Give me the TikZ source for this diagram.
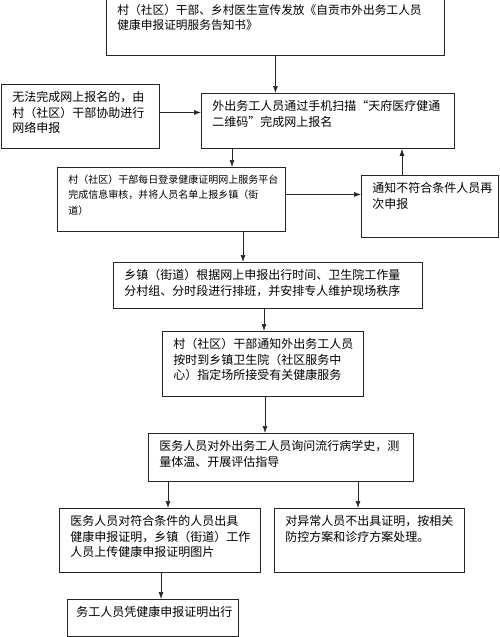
\documentclass[tikz,border=0pt]{standalone}
\usepackage{fontspec}
\setmainfont{Noto Sans CJK SC}
\usetikzlibrary{arrows.meta}
\tikzset{
 box/.style={draw=black!85, line width=0.9pt, anchor=north west, inner xsep=11pt, inner ysep=7pt, fill=white},
 arr/.style={-{Latex[length=7pt,width=5pt]}, line width=0.7pt, draw=black!85},
}
\newcommand\boxtext[4][12]{\parbox[c][\dimexpr#3pt-14pt\relax][t]{\dimexpr#2pt-22pt\relax}{\fontsize{#1}{15.5}\selectfont #4}}
\begin{document}
\begin{tikzpicture}[x=1pt,y=-1pt]
\fill[white] (0,0) rectangle (500,637);
\useasboundingbox (0,0) rectangle (500,637);

\node[box] (n1) at (106,-3) {\boxtext[11.7]{338}{58}{村（社区）干部、乡村医生宣传发放《自贡市外出务工人员\\健康申报证明服务告知书》}};
\node[box] (nl) at (1,84) {\boxtext{158}{64}{无法完成网上报名的，由\\村（社区）干部协助进行\\网络申报}};
\node[box] (n2) at (201,93) {\boxtext{253}{55}{外出务工人员通过手机扫描“天府医疗健通\\二维码”完成网上报名}};
\node[box] (n3) at (57,167) {\boxtext[10]{228}{64}{村（社区）干部每日登录健康证明网上服务平台\\完成信息审核，并将人员名单上报乡镇（街\\道）}};
\node[box] (nr) at (361,175) {\boxtext{137}{62}{通知不符合条件人员再\\次申报}};
\node[box] (n4) at (113,262) {\boxtext{309}{46}{乡镇（街道）根据网上申报出行时间、卫生院工作量\\分村组、分时段进行排班，并安排专人维护现场秩序}};
\node[box] (n5) at (162,331) {\boxtext{201}{65}{村（社区）干部通知外出务工人员\\按时到乡镇卫生院（社区服务中\\心）指定场所接受有关健康服务}};
\node[box] (n6) at (148,433) {\boxtext{265}{48}{医务人员对外出务工人员询问流行病学史，测\\量体温、开展评估指导}};
\node[box] (n7) at (59,508) {\boxtext{201}{64}{医务人员对符合条件的人员出具\\健康申报证明，乡镇（街道）工作\\人员上传健康申报证明图片}};
\node[box] (n8) at (274,508) {\boxtext{190}{64}{对异常人员不出具证明，按相关\\防控方案和诊疗方案处理。}};
\node[box, inner xsep=9pt] (n9) at (67,599) {\boxtext{175}{37}{务工人员凭健康申报证明出行}};

\coordinate (c1) at (n1.south);
\coordinate (cl) at ([yshift=4pt]nl.east);
\coordinate (c2) at ([xshift=31pt]n2.south west);
\coordinate (c3r) at ([yshift=5pt]n3.east);
\coordinate (cr) at ([xshift=41pt]nr.north west);
\coordinate (c3) at ([xshift=186pt]n3.south west);
\coordinate (c4) at ([xshift=151pt]n4.south west);
\coordinate (c5) at ([xshift=103pt]n5.south west);
\coordinate (c6a) at ([xshift=20pt]n6.south west);
\coordinate (c6b) at ([xshift=210pt]n6.south west);
\coordinate (c7) at ([xshift=102pt]n7.south west);

\draw[arr] (c1) -- (c1 |- n2.north);
\draw[arr] (cl) -- (cl -| n2.west);
\draw[arr] (c2) -- (c2 |- n3.north);
\draw[arr] (c3r) -- (c3r -| nr.west);
\draw[arr] (cr) -- (cr |- n2.south);
\draw[arr] (c3) -- (c3 |- n4.north);
\draw[arr] (c4) -- (c4 |- n5.north);
\draw[arr] (c5) -- (c5 |- n6.north);
\draw[arr] (c6a) -- (c6a |- n7.north);
\draw[arr] (c6b) -- (c6b |- n8.north);
\draw[arr] (c7) -- (c7 |- n9.north);
\end{tikzpicture}
\end{document}
